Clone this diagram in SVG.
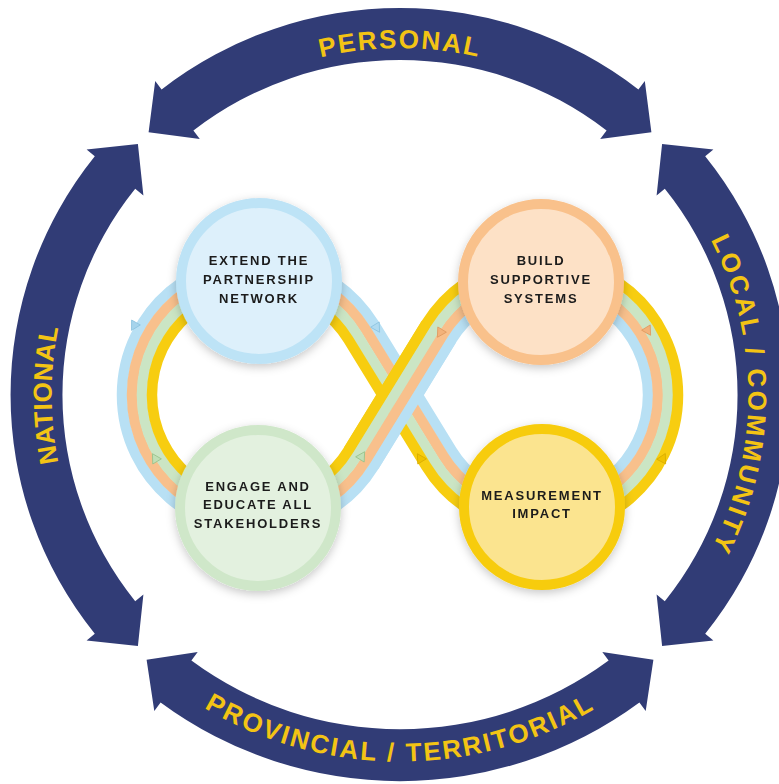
<svg xmlns="http://www.w3.org/2000/svg" width="779" height="784" viewBox="0 0 779 784">
<defs>
<style>
.band{fill:#313c76}
.lvl{font-family:"Liberation Sans",Arial,sans-serif;font-weight:bold;font-size:26px;fill:#f3c414}
.stripe{fill:none;stroke-width:10.5}
.blue{stroke:#b8e0f4}
.orange{stroke:#f8c08c}
.green{stroke:#cbe5c4}
.yellow{stroke:#f7cd10}
.ring{stroke-width:10}
.lbl{font-family:"Liberation Sans",Arial,sans-serif;font-weight:bold;font-size:13px;letter-spacing:1.8px;fill:#1b1b1b;text-anchor:middle}
.tick{stroke-width:0.8}
</style>
<filter id="sh" x="-30%" y="-30%" width="160%" height="160%">
<feDropShadow dx="0" dy="3" stdDeviation="5" flood-color="#000" flood-opacity="0.22"/>
</filter>
<path id="tpTop" d="M152.4,151.1 A349.2,349.2 0 0 1 647.6,151.1"/>
<path id="tpBot" d="M67.2,570.4 A385.3,385.3 0 0 0 732.8,570.4"/>
<path id="tpLeft" d="M222.3,688.9 A338.4,338.4 0 0 1 222.3,101.1"/>
<path id="tpRight" d="M577.7,101.1 A338.4,338.4 0 0 1 577.7,688.9"/>
</defs>
<rect width="779" height="784" fill="#ffffff"/>

<g id="arc-personal">
<path class="band" d="M161.6,89.4 L155.2,81.1 L148.6,132.3 L199.8,138.9 L193.4,130.6 A337.7,337.7 0 0 1 606.6,130.6 L600.2,138.9 L651.4,132.3 L644.8,81.1 L638.4,89.4 A389.7,389.7 0 0 0 161.6,89.4 Z"/>
<text class="lvl" letter-spacing="2"><textPath href="#tpTop" startOffset="50%" text-anchor="middle">PERSONAL</textPath></text>
</g>
<g id="arc-provincial">
<path class="band" d="M160.6,702.4 L154.3,710.9 L146.6,659.8 L197.7,652.1 L191.4,660.6 A351.3,351.3 0 0 0 608.6,660.6 L602.3,652.1 L653.4,659.8 L645.7,710.9 L639.4,702.4 A403.3,403.3 0 0 1 160.6,702.4 Z"/>
<text class="lvl" font-size="27" letter-spacing="2.3"><textPath href="#tpBot" startOffset="50%" text-anchor="middle">PROVINCIAL / TERRITORIAL</textPath></text>
</g>
<g id="arc-national">
<path class="band" d="M94.8,156.2 L86.6,149.6 L137.9,144.1 L143.4,195.4 L135.2,188.8 A328.6,328.6 0 0 0 135.2,601.2 L143.4,594.6 L137.9,645.9 L86.6,640.4 L94.8,633.8 A380.6,380.6 0 0 1 94.8,156.2 Z"/>
<text class="lvl" letter-spacing="0.5"><textPath href="#tpLeft" startOffset="50%" text-anchor="middle">NATIONAL</textPath></text>
</g>
<g id="arc-local">
<path class="band" d="M705.2,156.2 L713.4,149.6 L662.1,144.1 L656.6,195.4 L664.8,188.8 A328.6,328.6 0 0 1 664.8,601.2 L656.6,594.6 L662.1,645.9 L713.4,640.4 L705.2,633.8 A380.6,380.6 0 0 0 705.2,156.2 Z"/>
<text class="lvl" letter-spacing="3"><textPath href="#tpRight" startOffset="50%" text-anchor="middle">LOCAL / COMMUNITY</textPath></text>
</g>

<g id="connectors">
<path class="stripe blue" d="M373.9,323.85 A136,136 0 1 0 373.9,466.15 L451.7,339.55 A106,106 0 1 1 451.7,450.45 Z"/>
<path class="stripe orange" d="M365.4,329.1 A126,126 0 1 0 365.4,460.9 L443.2,334.3 A116,116 0 1 1 443.2,455.7 Z"/>
<path class="stripe green" d="M356.8,334.3 A116,116 0 1 0 356.8,455.7 L434.6,329.1 A126,126 0 1 1 434.6,460.9 Z"/>
<path class="stripe yellow" d="M348.3,339.55 A106,106 0 1 0 348.3,450.45 L426.1,323.85 A136,136 0 1 1 426.1,466.15 Z"/>
<path class="stripe blue" d="M373.9,466.15 L451.7,339.55"/>
<path class="stripe orange" d="M365.4,460.9 L443.2,334.3"/>
<path class="stripe green" d="M356.8,455.7 L434.6,329.1"/>
<path class="stripe yellow" d="M348.3,450.45 L426.1,323.85"/>
<g class="tick">
<polygon points="5,0 -4,-5 -4,5" fill="#a6d4ec" stroke="#8cc3e0" transform="translate(134,326) rotate(119.4)"/>
<polygon points="5,0 -4,-5 -4,5" fill="#b0daf0" stroke="#8cc3e0" transform="translate(377,328) rotate(58.6)"/>
<polygon points="5,0 -4,-5 -4,5" fill="#f3b27a" stroke="#e09a60" transform="translate(440,333) rotate(121.4)"/>
<polygon points="5,0 -4,-5 -4,5" fill="#f3b27a" stroke="#e09a60" transform="translate(648,331) rotate(58.5)"/>
<polygon points="5,0 -4,-5 -4,5" fill="#c0dfb6" stroke="#98c28a" transform="translate(155,458) rotate(-121)"/>
<polygon points="5,0 -4,-5 -4,5" fill="#c0dfb6" stroke="#98c28a" transform="translate(362,456) rotate(-58.5)"/>
<polygon points="5,0 -4,-5 -4,5" fill="#f0c200" stroke="#d9ad00" transform="translate(420,458) rotate(-121.5)"/>
<polygon points="5,0 -4,-5 -4,5" fill="#f0c200" stroke="#d9ad00" transform="translate(663,458) rotate(-62.6)"/>
</g>
</g>

<g id="node-extend" filter="url(#sh)">
<circle class="ring" cx="259" cy="281" r="78" fill="#ddf0fb" stroke="#bde3f6"/>
<text class="lbl"><tspan x="259" y="264.6">EXTEND THE</tspan><tspan x="259" y="283.6">PARTNERSHIP</tspan><tspan x="259" y="302.6">NETWORK</tspan></text>
</g>
<g id="node-build" filter="url(#sh)">
<circle class="ring" cx="541" cy="282" r="78" fill="#fde1c6" stroke="#f9c18b"/>
<text class="lbl"><tspan x="541" y="264.6">BUILD</tspan><tspan x="541" y="283.6">SUPPORTIVE</tspan><tspan x="541" y="302.6">SYSTEMS</tspan></text>
</g>
<g id="node-engage" filter="url(#sh)">
<circle class="ring" cx="258" cy="508" r="78" fill="#e3f1df" stroke="#cfe7c9"/>
<text class="lbl"><tspan x="258" y="490.6">ENGAGE AND</tspan><tspan x="258" y="509.1">EDUCATE ALL</tspan><tspan x="258" y="527.6">STAKEHOLDERS</tspan></text>
</g>
<g id="node-measurement" filter="url(#sh)">
<circle class="ring" cx="542" cy="507" r="78" fill="#fbe48f" stroke="#f7cc0e"/>
<text class="lbl"><tspan x="542" y="499.6">MEASUREMENT</tspan><tspan x="542" y="517.6">IMPACT</tspan></text>
</g>
</svg>
